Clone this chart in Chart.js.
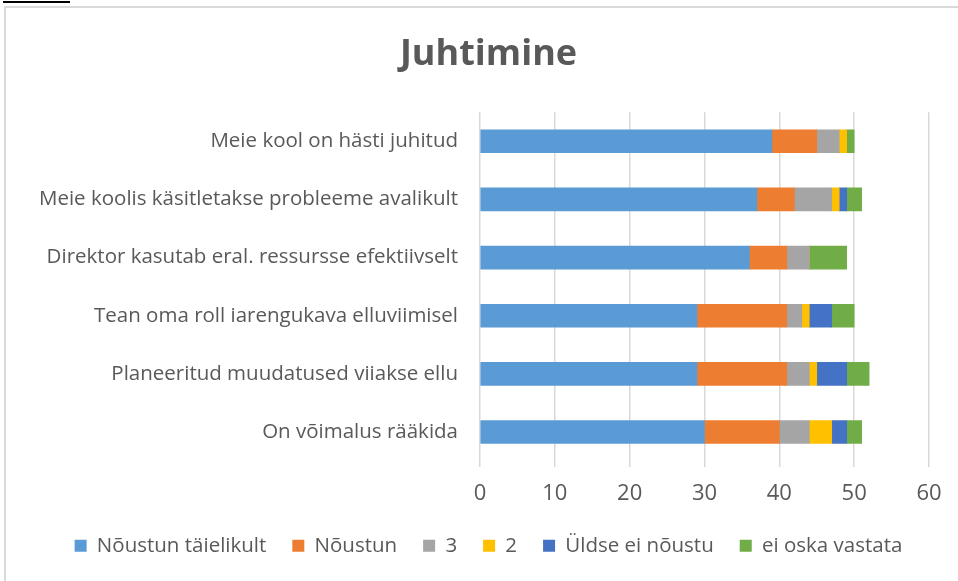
<!DOCTYPE html>
<html lang="et">
<head>
    <meta charset="UTF-8">
    <title>Juhtimine</title>
    <style>
        body {
            margin: 0;
            background: #fff;
            font-family: 'Open Sans', sans-serif;
        }
        .topline {
            position: absolute;
            left: 3px;
            top: 1px;
            width: 67px;
            height: 2px;
            background: #000;
        }
        .frame {
            position: absolute;
            left: 4px;
            top: 6px;
            width: 960px;
            height: 580px;
            border-top: 2px solid #d9d9d9;
            border-left: 2px solid #d9d9d9;
        }
        .chart-box {
            position: absolute;
            left: 0;
            top: 0;
            width: 958px;
            height: 581px;
        }
    </style>
</head>
<body>
    <div class="topline"></div>
    <div class="frame"></div>
    <div class="chart-box">
        <canvas id="chart"></canvas>
    </div>

    <script src="https://cdn.jsdelivr.net/npm/chart.js"></script>
    <script>
        const categories = [
            'Meie kool on hästi juhitud',
            'Meie koolis käsitletakse probleeme avalikult',
            'Direktor kasutab eral. ressursse efektiivselt',
            'Tean oma roll iarengukava elluviimisel',
            'Planeeritud muudatused viiakse ellu',
            'On võimalus rääkida'
        ];
        const seriesNames = ['Nõustun täielikult', 'Nõustun', '3', '2', 'Üldse ei nõustu', 'ei oska vastata'];
        const taielikult = [39, 37, 36, 29, 29, 30];
        const noustun    = [6, 5, 5, 12, 12, 10];
        const kolm       = [3, 5, 3, 2, 3, 4];
        const kaks       = [1, 1, 0, 1, 1, 3];
        const uldseEi    = [0, 1, 0, 3, 4, 2];
        const eiOska     = [1, 2, 5, 3, 3, 2];
        const xTicks = [0, 10, 20, 30, 40, 50, 60];

        const colors = ['#5B9BD5', '#ED7D31', '#A5A5A5', '#FFC000', '#4472C4', '#70AD47'];
        const allSeries = [taielikult, noustun, kolm, kaks, uldseEi, eiOska];
        const textColor = '#595959';
        const fam = "'Open Sans'";

        // title and legend are centred a bit right of the canvas middle in the original
        const shiftBlocks = {
            id: 'shiftBlocks',
            afterLayout(chart) {
                [chart.titleBlock, chart.legend].forEach(b => {
                    if (!b) return;
                    b.left += 21;
                    b.right += 21;
                });
            }
        };

        new Chart(document.getElementById('chart'), {
            type: 'bar',
            data: {
                labels: categories,
                datasets: allSeries.map((vals, i) => ({
                    label: seriesNames[i],
                    data: vals,
                    backgroundColor: colors[i],
                    barThickness: 23
                }))
            },
            options: {
                indexAxis: 'y',
                responsive: true,
                maintainAspectRatio: false,
                animation: false,
                layout: { padding: { left: 6, right: 29, top: 0, bottom: 15 } },
                scales: {
                    x: {
                        stacked: true,
                        min: 0,
                        max: 60,
                        afterBuildTicks: s => { s.ticks = xTicks.map(v => ({ value: v })); },
                        afterFit: s => { s.height -= 10; },
                        grid: { color: '#d9d9d9', lineWidth: 1.5, tickLength: 6 },
                        border: { display: false },
                        ticks: {
                            color: textColor,
                            font: { family: fam, size: 22 },
                            padding: 13
                        }
                    },
                    y: {
                        stacked: true,
                        grid: { display: false, drawTicks: false },
                        border: { display: false },
                        afterFit: s => { s.width = 474; },
                        ticks: {
                            color: textColor,
                            font: { family: fam, size: 20.5 },
                            padding: 22
                        }
                    }
                },
                plugins: {
                    title: {
                        display: true,
                        text: 'Juhtimine',
                        color: textColor,
                        font: { family: fam, size: 36, weight: 'bold' },
                        padding: { top: 33, bottom: 36 }
                    },
                    legend: {
                        position: 'bottom',
                        labels: {
                            color: textColor,
                            font: { family: fam, size: 20.5 },
                            boxWidth: 12,
                            boxHeight: 12,
                            padding: 26
                        }
                    },
                    tooltip: { enabled: false }
                }
            },
            plugins: [shiftBlocks]
        });
    </script>
</body>
</html>
